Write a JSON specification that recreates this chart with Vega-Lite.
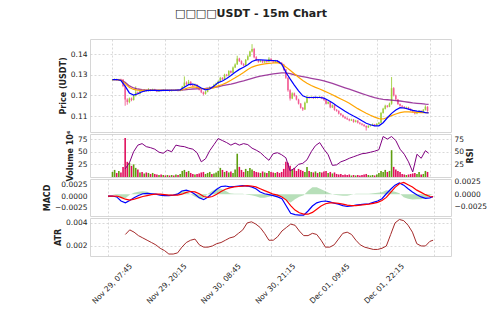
{
"$schema":"https://vega.github.io/schema/vega-lite/v6.json",
"background":"white",
"padding":{"left":42,"top":7,"right":3,"bottom":3},
"title":{"text":"□□□□USDT - 15m Chart","fontSize":11,"fontWeight":"bold","font":"DejaVu Sans","color":"#222222","anchor":"middle","offset":20,"dx":-14},
"spacing":2,
"bounds":"flush",
"config":{
 "font":"DejaVu Sans",
 "concat":{"spacing":2},
 "view":{"stroke":"#d6d6d6","strokeWidth":1},
 "axis":{"domain":false,"ticks":false,"labelOverlap":false,"gridColor":"#cfcfcf","gridDash":[2,2],"gridWidth":0.8,"labelFontSize":7.5,"labelColor":"#222222","labelPadding":3,"titleFontSize":8,"titleFontWeight":"bold","titleColor":"#222222","titlePadding":3,"minExtent":0}
},
"datasets":{
"k":[
{"t":"2024-11-29T07:45","o":0.1274,"h":0.1280,"l":0.1272,"c":0.1276,"v":10},
{"t":"2024-11-29T08:15","o":0.1276,"h":0.1282,"l":0.1274,"c":0.1279,"v":14},
{"t":"2024-11-29T08:45","o":0.1279,"h":0.1281,"l":0.1272,"c":0.1274,"v":8},
{"t":"2024-11-29T09:15","o":0.1274,"h":0.1280,"l":0.1273,"c":0.1278,"v":12},
{"t":"2024-11-29T09:45","o":0.1278,"h":0.1281,"l":0.1274,"c":0.1277,"v":9},
{"t":"2024-11-29T10:15","o":0.1277,"h":0.1278,"l":0.1240,"c":0.1245,"v":20},
{"t":"2024-11-29T10:45","o":0.1245,"h":0.1248,"l":0.1150,"c":0.1180,"v":77},
{"t":"2024-11-29T11:15","o":0.1180,"h":0.1186,"l":0.1155,"c":0.1168,"v":30},
{"t":"2024-11-29T11:45","o":0.1168,"h":0.1190,"l":0.1162,"c":0.1185,"v":28},
{"t":"2024-11-29T12:15","o":0.1185,"h":0.1190,"l":0.1172,"c":0.1178,"v":22},
{"t":"2024-11-29T12:45","o":0.1178,"h":0.1202,"l":0.1175,"c":0.1198,"v":25},
{"t":"2024-11-29T13:15","o":0.1198,"h":0.1244,"l":0.1195,"c":0.1215,"v":18},
{"t":"2024-11-29T13:45","o":0.1215,"h":0.1219,"l":0.1204,"c":0.1208,"v":15},
{"t":"2024-11-29T14:15","o":0.1208,"h":0.1226,"l":0.1205,"c":0.1222,"v":9},
{"t":"2024-11-29T14:45","o":0.1222,"h":0.1226,"l":0.1215,"c":0.1219,"v":10},
{"t":"2024-11-29T15:15","o":0.1219,"h":0.1230,"l":0.1217,"c":0.1226,"v":7},
{"t":"2024-11-29T15:45","o":0.1226,"h":0.1229,"l":0.1218,"c":0.1221,"v":9},
{"t":"2024-11-29T16:15","o":0.1221,"h":0.1235,"l":0.1219,"c":0.1228,"v":8},
{"t":"2024-11-29T16:45","o":0.1228,"h":0.1231,"l":0.1220,"c":0.1223,"v":6},
{"t":"2024-11-29T17:15","o":0.1223,"h":0.1233,"l":0.1221,"c":0.1230,"v":8},
{"t":"2024-11-29T17:45","o":0.1230,"h":0.1232,"l":0.1221,"c":0.1224,"v":6},
{"t":"2024-11-29T18:15","o":0.1224,"h":0.1227,"l":0.1216,"c":0.1219,"v":5},
{"t":"2024-11-29T18:45","o":0.1219,"h":0.1229,"l":0.1217,"c":0.1226,"v":4},
{"t":"2024-11-29T19:15","o":0.1226,"h":0.1228,"l":0.1219,"c":0.1222,"v":5},
{"t":"2024-11-29T19:45","o":0.1222,"h":0.1230,"l":0.1220,"c":0.1227,"v":4},
{"t":"2024-11-29T20:15","o":0.1227,"h":0.1229,"l":0.1220,"c":0.1223,"v":3},
{"t":"2024-11-29T20:45","o":0.1223,"h":0.1228,"l":0.1221,"c":0.1225,"v":4},
{"t":"2024-11-29T21:15","o":0.1225,"h":0.1227,"l":0.1218,"c":0.1221,"v":3},
{"t":"2024-11-29T21:45","o":0.1221,"h":0.1229,"l":0.1219,"c":0.1226,"v":4},
{"t":"2024-11-29T22:15","o":0.1226,"h":0.1228,"l":0.1221,"c":0.1224,"v":3},
{"t":"2024-11-29T22:45","o":0.1224,"h":0.1231,"l":0.1222,"c":0.1228,"v":5},
{"t":"2024-11-29T23:15","o":0.1228,"h":0.1230,"l":0.1219,"c":0.1222,"v":4},
{"t":"2024-11-29T23:45","o":0.1222,"h":0.1229,"l":0.1220,"c":0.1226,"v":6},
{"t":"2024-11-30T00:15","o":0.1226,"h":0.1246,"l":0.1224,"c":0.1242,"v":12},
{"t":"2024-11-30T00:45","o":0.1242,"h":0.1292,"l":0.1240,"c":0.1262,"v":14},
{"t":"2024-11-30T01:15","o":0.1262,"h":0.1268,"l":0.1250,"c":0.1255,"v":10},
{"t":"2024-11-30T01:45","o":0.1255,"h":0.1275,"l":0.1252,"c":0.1266,"v":12},
{"t":"2024-11-30T02:15","o":0.1266,"h":0.1269,"l":0.1246,"c":0.1250,"v":8},
{"t":"2024-11-30T02:45","o":0.1250,"h":0.1256,"l":0.1242,"c":0.1246,"v":6},
{"t":"2024-11-30T03:15","o":0.1246,"h":0.1258,"l":0.1244,"c":0.1252,"v":5},
{"t":"2024-11-30T03:45","o":0.1252,"h":0.1254,"l":0.1232,"c":0.1236,"v":6},
{"t":"2024-11-30T04:15","o":0.1236,"h":0.1240,"l":0.1224,"c":0.1228,"v":7},
{"t":"2024-11-30T04:45","o":0.1228,"h":0.1231,"l":0.1211,"c":0.1215,"v":9},
{"t":"2024-11-30T05:15","o":0.1215,"h":0.1219,"l":0.1200,"c":0.1207,"v":10},
{"t":"2024-11-30T05:45","o":0.1207,"h":0.1222,"l":0.1204,"c":0.1218,"v":6},
{"t":"2024-11-30T06:15","o":0.1218,"h":0.1236,"l":0.1215,"c":0.1232,"v":8},
{"t":"2024-11-30T06:45","o":0.1232,"h":0.1244,"l":0.1229,"c":0.1240,"v":10},
{"t":"2024-11-30T07:15","o":0.1240,"h":0.1243,"l":0.1232,"c":0.1236,"v":6},
{"t":"2024-11-30T07:45","o":0.1236,"h":0.1256,"l":0.1234,"c":0.1252,"v":7},
{"t":"2024-11-30T08:15","o":0.1252,"h":0.1262,"l":0.1248,"c":0.1258,"v":9},
{"t":"2024-11-30T08:45","o":0.1258,"h":0.1272,"l":0.1255,"c":0.1268,"v":12},
{"t":"2024-11-30T09:15","o":0.1268,"h":0.1290,"l":0.1265,"c":0.1285,"v":18},
{"t":"2024-11-30T09:45","o":0.1285,"h":0.1288,"l":0.1274,"c":0.1278,"v":14},
{"t":"2024-11-30T10:15","o":0.1278,"h":0.1305,"l":0.1276,"c":0.1300,"v":10},
{"t":"2024-11-30T10:45","o":0.1300,"h":0.1304,"l":0.1292,"c":0.1296,"v":12},
{"t":"2024-11-30T11:15","o":0.1296,"h":0.1322,"l":0.1294,"c":0.1318,"v":9},
{"t":"2024-11-30T11:45","o":0.1318,"h":0.1321,"l":0.1306,"c":0.1310,"v":11},
{"t":"2024-11-30T12:15","o":0.1310,"h":0.1340,"l":0.1308,"c":0.1335,"v":8},
{"t":"2024-11-30T12:45","o":0.1335,"h":0.1355,"l":0.1332,"c":0.1350,"v":15},
{"t":"2024-11-30T13:15","o":0.1350,"h":0.1392,"l":0.1348,"c":0.1378,"v":46},
{"t":"2024-11-30T13:45","o":0.1378,"h":0.1382,"l":0.1362,"c":0.1366,"v":20},
{"t":"2024-11-30T14:15","o":0.1366,"h":0.1370,"l":0.1348,"c":0.1352,"v":14},
{"t":"2024-11-30T14:45","o":0.1352,"h":0.1356,"l":0.1340,"c":0.1345,"v":10},
{"t":"2024-11-30T15:15","o":0.1345,"h":0.1376,"l":0.1343,"c":0.1372,"v":16},
{"t":"2024-11-30T15:45","o":0.1372,"h":0.1395,"l":0.1369,"c":0.1390,"v":12},
{"t":"2024-11-30T16:15","o":0.1390,"h":0.1416,"l":0.1386,"c":0.1412,"v":18},
{"t":"2024-11-30T16:45","o":0.1412,"h":0.1448,"l":0.1408,"c":0.1425,"v":15},
{"t":"2024-11-30T17:15","o":0.1425,"h":0.1430,"l":0.1380,"c":0.1385,"v":12},
{"t":"2024-11-30T17:45","o":0.1385,"h":0.1390,"l":0.1366,"c":0.1370,"v":10},
{"t":"2024-11-30T18:15","o":0.1370,"h":0.1374,"l":0.1358,"c":0.1362,"v":9},
{"t":"2024-11-30T18:45","o":0.1362,"h":0.1372,"l":0.1360,"c":0.1368,"v":8},
{"t":"2024-11-30T19:15","o":0.1368,"h":0.1371,"l":0.1356,"c":0.1360,"v":11},
{"t":"2024-11-30T19:45","o":0.1360,"h":0.1370,"l":0.1357,"c":0.1366,"v":9},
{"t":"2024-11-30T20:15","o":0.1366,"h":0.1369,"l":0.1358,"c":0.1362,"v":8},
{"t":"2024-11-30T20:45","o":0.1362,"h":0.1385,"l":0.1360,"c":0.1378,"v":12},
{"t":"2024-11-30T21:15","o":0.1378,"h":0.1380,"l":0.1362,"c":0.1366,"v":10},
{"t":"2024-11-30T21:45","o":0.1366,"h":0.1369,"l":0.1356,"c":0.1360,"v":9},
{"t":"2024-11-30T22:15","o":0.1360,"h":0.1372,"l":0.1358,"c":0.1368,"v":8},
{"t":"2024-11-30T22:45","o":0.1368,"h":0.1371,"l":0.1359,"c":0.1362,"v":10},
{"t":"2024-11-30T23:15","o":0.1362,"h":0.1366,"l":0.1354,"c":0.1358,"v":8},
{"t":"2024-11-30T23:45","o":0.1358,"h":0.1361,"l":0.1346,"c":0.1350,"v":10},
{"t":"2024-12-01T00:15","o":0.1350,"h":0.1353,"l":0.1320,"c":0.1325,"v":16},
{"t":"2024-12-01T00:45","o":0.1325,"h":0.1328,"l":0.1280,"c":0.1285,"v":30},
{"t":"2024-12-01T01:15","o":0.1285,"h":0.1288,"l":0.1218,"c":0.1225,"v":28},
{"t":"2024-12-01T01:45","o":0.1225,"h":0.1230,"l":0.1175,"c":0.1185,"v":22},
{"t":"2024-12-01T02:15","o":0.1185,"h":0.1215,"l":0.1182,"c":0.1210,"v":15},
{"t":"2024-12-01T02:45","o":0.1210,"h":0.1214,"l":0.1194,"c":0.1198,"v":18},
{"t":"2024-12-01T03:15","o":0.1198,"h":0.1201,"l":0.1176,"c":0.1180,"v":12},
{"t":"2024-12-01T03:45","o":0.1180,"h":0.1184,"l":0.1156,"c":0.1160,"v":16},
{"t":"2024-12-01T04:15","o":0.1160,"h":0.1163,"l":0.1136,"c":0.1140,"v":14},
{"t":"2024-12-01T04:45","o":0.1140,"h":0.1144,"l":0.1125,"c":0.1132,"v":12},
{"t":"2024-12-01T05:15","o":0.1132,"h":0.1170,"l":0.1130,"c":0.1165,"v":10},
{"t":"2024-12-01T05:45","o":0.1165,"h":0.1200,"l":0.1162,"c":0.1192,"v":20},
{"t":"2024-12-01T06:15","o":0.1192,"h":0.1195,"l":0.1184,"c":0.1188,"v":12},
{"t":"2024-12-01T06:45","o":0.1188,"h":0.1196,"l":0.1186,"c":0.1192,"v":10},
{"t":"2024-12-01T07:15","o":0.1192,"h":0.1194,"l":0.1183,"c":0.1187,"v":9},
{"t":"2024-12-01T07:45","o":0.1187,"h":0.1195,"l":0.1185,"c":0.1191,"v":11},
{"t":"2024-12-01T08:15","o":0.1191,"h":0.1193,"l":0.1185,"c":0.1189,"v":8},
{"t":"2024-12-01T08:45","o":0.1189,"h":0.1197,"l":0.1187,"c":0.1193,"v":10},
{"t":"2024-12-01T09:15","o":0.1193,"h":0.1195,"l":0.1182,"c":0.1186,"v":9},
{"t":"2024-12-01T09:45","o":0.1186,"h":0.1189,"l":0.1174,"c":0.1178,"v":11},
{"t":"2024-12-01T10:15","o":0.1178,"h":0.1181,"l":0.1156,"c":0.1160,"v":12},
{"t":"2024-12-01T10:45","o":0.1160,"h":0.1172,"l":0.1157,"c":0.1168,"v":8},
{"t":"2024-12-01T11:15","o":0.1168,"h":0.1171,"l":0.1138,"c":0.1142,"v":10},
{"t":"2024-12-01T11:45","o":0.1142,"h":0.1156,"l":0.1139,"c":0.1152,"v":7},
{"t":"2024-12-01T12:15","o":0.1152,"h":0.1155,"l":0.1126,"c":0.1130,"v":9},
{"t":"2024-12-01T12:45","o":0.1130,"h":0.1134,"l":0.1121,"c":0.1125,"v":6},
{"t":"2024-12-01T13:15","o":0.1125,"h":0.1128,"l":0.1108,"c":0.1112,"v":5},
{"t":"2024-12-01T13:45","o":0.1112,"h":0.1115,"l":0.1101,"c":0.1105,"v":6},
{"t":"2024-12-01T14:15","o":0.1105,"h":0.1108,"l":0.1092,"c":0.1096,"v":4},
{"t":"2024-12-01T14:45","o":0.1096,"h":0.1100,"l":0.1086,"c":0.1090,"v":5},
{"t":"2024-12-01T15:15","o":0.1090,"h":0.1094,"l":0.1081,"c":0.1085,"v":4},
{"t":"2024-12-01T15:45","o":0.1085,"h":0.1088,"l":0.1075,"c":0.1079,"v":5},
{"t":"2024-12-01T16:15","o":0.1079,"h":0.1087,"l":0.1076,"c":0.1083,"v":3},
{"t":"2024-12-01T16:45","o":0.1083,"h":0.1086,"l":0.1068,"c":0.1072,"v":4},
{"t":"2024-12-01T17:15","o":0.1072,"h":0.1082,"l":0.1069,"c":0.1078,"v":3},
{"t":"2024-12-01T17:45","o":0.1078,"h":0.1080,"l":0.1064,"c":0.1068,"v":4},
{"t":"2024-12-01T18:15","o":0.1068,"h":0.1071,"l":0.1059,"c":0.1063,"v":3},
{"t":"2024-12-01T18:45","o":0.1063,"h":0.1066,"l":0.1054,"c":0.1058,"v":4},
{"t":"2024-12-01T19:15","o":0.1058,"h":0.1061,"l":0.1048,"c":0.1052,"v":5},
{"t":"2024-12-01T19:45","o":0.1052,"h":0.1055,"l":0.1030,"c":0.1045,"v":6},
{"t":"2024-12-01T20:15","o":0.1045,"h":0.1056,"l":0.1042,"c":0.1052,"v":4},
{"t":"2024-12-01T20:45","o":0.1052,"h":0.1060,"l":0.1049,"c":0.1056,"v":3},
{"t":"2024-12-01T21:15","o":0.1056,"h":0.1064,"l":0.1053,"c":0.1060,"v":4},
{"t":"2024-12-01T21:45","o":0.1060,"h":0.1062,"l":0.1051,"c":0.1055,"v":3},
{"t":"2024-12-01T22:15","o":0.1055,"h":0.1066,"l":0.1052,"c":0.1062,"v":5},
{"t":"2024-12-01T22:45","o":0.1062,"h":0.1072,"l":0.1059,"c":0.1068,"v":8},
{"t":"2024-12-01T23:15","o":0.1068,"h":0.1120,"l":0.1065,"c":0.1115,"v":12},
{"t":"2024-12-01T23:45","o":0.1115,"h":0.1140,"l":0.1112,"c":0.1135,"v":10},
{"t":"2024-12-02T00:15","o":0.1135,"h":0.1155,"l":0.1132,"c":0.1150,"v":14},
{"t":"2024-12-02T00:45","o":0.1150,"h":0.1153,"l":0.1141,"c":0.1145,"v":10},
{"t":"2024-12-02T01:15","o":0.1145,"h":0.1165,"l":0.1143,"c":0.1160,"v":12},
{"t":"2024-12-02T01:45","o":0.1160,"h":0.1289,"l":0.1155,"c":0.1235,"v":53},
{"t":"2024-12-02T02:15","o":0.1235,"h":0.1240,"l":0.1195,"c":0.1200,"v":20},
{"t":"2024-12-02T02:45","o":0.1200,"h":0.1204,"l":0.1176,"c":0.1180,"v":15},
{"t":"2024-12-02T03:15","o":0.1180,"h":0.1183,"l":0.1154,"c":0.1158,"v":12},
{"t":"2024-12-02T03:45","o":0.1158,"h":0.1161,"l":0.1146,"c":0.1150,"v":10},
{"t":"2024-12-02T04:15","o":0.1150,"h":0.1153,"l":0.1141,"c":0.1145,"v":6},
{"t":"2024-12-02T04:45","o":0.1145,"h":0.1148,"l":0.1134,"c":0.1138,"v":5},
{"t":"2024-12-02T05:15","o":0.1138,"h":0.1146,"l":0.1135,"c":0.1142,"v":4},
{"t":"2024-12-02T05:45","o":0.1142,"h":0.1145,"l":0.1131,"c":0.1135,"v":5},
{"t":"2024-12-02T06:15","o":0.1135,"h":0.1138,"l":0.1124,"c":0.1128,"v":6},
{"t":"2024-12-02T06:45","o":0.1128,"h":0.1131,"l":0.1116,"c":0.1120,"v":7},
{"t":"2024-12-02T07:15","o":0.1120,"h":0.1123,"l":0.1108,"c":0.1112,"v":8},
{"t":"2024-12-02T07:45","o":0.1112,"h":0.1122,"l":0.1109,"c":0.1118,"v":6},
{"t":"2024-12-02T08:15","o":0.1118,"h":0.1129,"l":0.1115,"c":0.1125,"v":10},
{"t":"2024-12-02T08:45","o":0.1125,"h":0.1128,"l":0.1116,"c":0.1120,"v":5},
{"t":"2024-12-02T09:15","o":0.1120,"h":0.1134,"l":0.1117,"c":0.1130,"v":6},
{"t":"2024-12-02T09:45","o":0.1130,"h":0.1152,"l":0.1127,"c":0.1145,"v":12},
{"t":"2024-12-02T10:15","o":0.1145,"h":0.1148,"l":0.1121,"c":0.1125,"v":10}
],
"ind":[
{"t":"2024-11-29T07:45","a":0.1276,"b":0.1276,"d":0.1276,"r":null,"m":0,"s":0,"g":0,"atr":null},
{"t":"2024-11-29T08:45","a":0.1277,"b":0.1276,"d":0.1276,"r":null,"m":0,"s":0,"g":0,"atr":null},
{"t":"2024-11-29T09:45","a":0.1272,"b":0.1273,"d":0.1274,"r":null,"m":-0.0002,"s":0,"g":-0.0002,"atr":null},
{"t":"2024-11-29T10:45","a":0.1245,"b":0.1257,"d":0.1263,"r":16,"m":-0.0011,"s":-0.0003,"g":-0.0008,"atr":null},
{"t":"2024-11-29T11:45","a":0.1212,"b":0.1238,"d":0.1246,"r":28,"m":-0.0015,"s":-0.0007,"g":-0.0008,"atr":0.0030},
{"t":"2024-11-29T12:45","a":0.1202,"b":0.1229,"d":0.1236,"r":50,"m":-0.0010,"s":-0.0009,"g":-0.0001,"atr":0.0034},
{"t":"2024-11-29T13:45","a":0.1208,"b":0.1225,"d":0.1231,"r":63,"m":-0.0004,"s":-0.0007,"g":0.0003,"atr":0.0032},
{"t":"2024-11-29T14:45","a":0.1218,"b":0.1224,"d":0.1228,"r":66,"m":0.0001,"s":-0.0004,"g":0.0005,"atr":0.0029},
{"t":"2024-11-29T15:45","a":0.1223,"b":0.1224,"d":0.1226,"r":60,"m":0.0005,"s":-0.0001,"g":0.0006,"atr":0.0027},
{"t":"2024-11-29T16:45","a":0.1224,"b":0.1225,"d":0.1226,"r":58,"m":0.0006,"s":0.0001,"g":0.0005,"atr":0.0025},
{"t":"2024-11-29T17:45","a":0.1224,"b":0.1225,"d":0.1226,"r":55,"m":0.0005,"s":0.0003,"g":0.0002,"atr":0.0023},
{"t":"2024-11-29T18:45","a":0.1223,"b":0.1225,"d":0.1226,"r":49,"m":0.0004,"s":0.0004,"g":0,"atr":0.0021},
{"t":"2024-11-29T19:45","a":0.1224,"b":0.1225,"d":0.1226,"r":47,"m":0.0002,"s":0.0004,"g":-0.0002,"atr":0.0018},
{"t":"2024-11-29T20:45","a":0.1224,"b":0.1225,"d":0.1226,"r":53,"m":0.0001,"s":0.0003,"g":-0.0002,"atr":0.0016},
{"t":"2024-11-29T21:45","a":0.1225,"b":0.1225,"d":0.1226,"r":50,"m":0.0001,"s":0.0002,"g":-0.0001,"atr":0.0013},
{"t":"2024-11-29T22:45","a":0.1225,"b":0.1225,"d":0.1226,"r":63,"m":0.0002,"s":0.0002,"g":0,"atr":0.0013},
{"t":"2024-11-29T23:45","a":0.1227,"b":0.1226,"d":0.1226,"r":61,"m":0.0004,"s":0.0002,"g":0.0002,"atr":0.0014},
{"t":"2024-11-30T00:45","a":0.1240,"b":0.1231,"d":0.1227,"r":60,"m":0.0011,"s":0.0004,"g":0.0007,"atr":0.0019},
{"t":"2024-11-30T01:45","a":0.1252,"b":0.1237,"d":0.1229,"r":57,"m":0.0013,"s":0.0008,"g":0.0005,"atr":0.0023},
{"t":"2024-11-30T02:45","a":0.1255,"b":0.1241,"d":0.1231,"r":55,"m":0.0010,"s":0.0010,"g":0,"atr":0.0025},
{"t":"2024-11-30T03:45","a":0.1248,"b":0.1239,"d":0.1232,"r":48,"m":0.0004,"s":0.0009,"g":-0.0005,"atr":0.0026},
{"t":"2024-11-30T04:45","a":0.1236,"b":0.1234,"d":0.1233,"r":30,"m":-0.0004,"s":0.0005,"g":-0.0009,"atr":0.0021},
{"t":"2024-11-30T05:45","a":0.1227,"b":0.1231,"d":0.1234,"r":36,"m":-0.0008,"s":-0.0001,"g":-0.0007,"atr":0.0019},
{"t":"2024-11-30T06:45","a":0.1231,"b":0.1233,"d":0.1236,"r":52,"m":-0.0002,"s":-0.0003,"g":0.0001,"atr":0.0019},
{"t":"2024-11-30T07:45","a":0.1245,"b":0.1238,"d":0.1239,"r":64,"m":0.0006,"s":-0.0001,"g":0.0007,"atr":0.0020},
{"t":"2024-11-30T08:45","a":0.1262,"b":0.1246,"d":0.1242,"r":76,"m":0.0015,"s":0.0004,"g":0.0011,"atr":0.0022},
{"t":"2024-11-30T09:45","a":0.1270,"b":0.1253,"d":0.1247,"r":72,"m":0.0021,"s":0.0010,"g":0.0011,"atr":0.0023},
{"t":"2024-11-30T10:45","a":0.1282,"b":0.1262,"d":0.1251,"r":68,"m":0.0022,"s":0.0015,"g":0.0007,"atr":0.0025},
{"t":"2024-11-30T11:45","a":0.1296,"b":0.1273,"d":0.1255,"r":63,"m":0.0020,"s":0.0018,"g":0.0002,"atr":0.0027},
{"t":"2024-11-30T12:45","a":0.1312,"b":0.1285,"d":0.1260,"r":67,"m":0.0021,"s":0.0020,"g":0.0001,"atr":0.0028},
{"t":"2024-11-30T13:45","a":0.1326,"b":0.1298,"d":0.1265,"r":63,"m":0.0022,"s":0.0021,"g":0.0001,"atr":0.0031},
{"t":"2024-11-30T14:45","a":0.1336,"b":0.1311,"d":0.1270,"r":66,"m":0.0023,"s":0.0022,"g":0.0001,"atr":0.0034},
{"t":"2024-11-30T15:45","a":0.1348,"b":0.1325,"d":0.1276,"r":64,"m":0.0022,"s":0.0023,"g":-0.0001,"atr":0.0040},
{"t":"2024-11-30T16:45","a":0.1364,"b":0.1337,"d":0.1282,"r":57,"m":0.0020,"s":0.0022,"g":-0.0002,"atr":0.0041},
{"t":"2024-11-30T17:45","a":0.1372,"b":0.1344,"d":0.1288,"r":53,"m":0.0016,"s":0.0020,"g":-0.0004,"atr":0.0039},
{"t":"2024-11-30T18:45","a":0.1372,"b":0.1349,"d":0.1293,"r":48,"m":0.0009,"s":0.0016,"g":-0.0007,"atr":0.0036},
{"t":"2024-11-30T19:45","a":0.1371,"b":0.1353,"d":0.1297,"r":40,"m":0.0005,"s":0.0012,"g":-0.0007,"atr":0.0031},
{"t":"2024-11-30T20:45","a":0.1370,"b":0.1355,"d":0.1301,"r":33,"m":0.0003,"s":0.0008,"g":-0.0005,"atr":0.0025},
{"t":"2024-11-30T21:45","a":0.1369,"b":0.1357,"d":0.1304,"r":46,"m":0.0001,"s":0.0004,"g":-0.0003,"atr":0.0025},
{"t":"2024-11-30T22:45","a":0.1367,"b":0.1359,"d":0.1307,"r":48,"m":-0.0002,"s":0.0002,"g":-0.0004,"atr":0.0028},
{"t":"2024-11-30T23:45","a":0.1352,"b":0.1353,"d":0.1309,"r":44,"m":-0.0006,"s":-0.0002,"g":-0.0004,"atr":0.0033},
{"t":"2024-12-01T00:45","a":0.1312,"b":0.1338,"d":0.1309,"r":38,"m":-0.0022,"s":-0.0009,"g":-0.0013,"atr":0.0036},
{"t":"2024-12-01T01:45","a":0.1280,"b":0.1322,"d":0.1305,"r":12,"m":-0.0038,"s":-0.0021,"g":-0.0017,"atr":0.0039},
{"t":"2024-12-01T02:45","a":0.1250,"b":0.1305,"d":0.1300,"r":17,"m":-0.0041,"s":-0.0031,"g":-0.0010,"atr":0.0038},
{"t":"2024-12-01T03:45","a":0.1222,"b":0.1288,"d":0.1295,"r":25,"m":-0.0042,"s":-0.0037,"g":-0.0005,"atr":0.0033},
{"t":"2024-12-01T04:45","a":0.1198,"b":0.1272,"d":0.1291,"r":27,"m":-0.0042,"s":-0.0040,"g":-0.0002,"atr":0.0029},
{"t":"2024-12-01T05:45","a":0.1190,"b":0.1259,"d":0.1287,"r":34,"m":-0.0033,"s":-0.0040,"g":0.0007,"atr":0.0029},
{"t":"2024-12-01T06:45","a":0.1190,"b":0.1248,"d":0.1283,"r":50,"m":-0.0022,"s":-0.0036,"g":0.0014,"atr":0.0031},
{"t":"2024-12-01T07:45","a":0.1191,"b":0.1239,"d":0.1279,"r":62,"m":-0.0015,"s":-0.0029,"g":0.0014,"atr":0.0030},
{"t":"2024-12-01T08:45","a":0.1190,"b":0.1231,"d":0.1275,"r":68,"m":-0.0012,"s":-0.0022,"g":0.0010,"atr":0.0025},
{"t":"2024-12-01T09:45","a":0.1187,"b":0.1222,"d":0.1270,"r":55,"m":-0.0011,"s":-0.0017,"g":0.0006,"atr":0.0019},
{"t":"2024-12-01T10:45","a":0.1177,"b":0.1213,"d":0.1264,"r":44,"m":-0.0013,"s":-0.0015,"g":0.0002,"atr":0.0019},
{"t":"2024-12-01T11:45","a":0.1164,"b":0.1203,"d":0.1258,"r":23,"m":-0.0016,"s":-0.0015,"g":-0.0001,"atr":0.0021},
{"t":"2024-12-01T12:45","a":0.1150,"b":0.1193,"d":0.1251,"r":24,"m":-0.0018,"s":-0.0016,"g":-0.0002,"atr":0.0026},
{"t":"2024-12-01T13:45","a":0.1137,"b":0.1183,"d":0.1244,"r":30,"m":-0.0021,"s":-0.0018,"g":-0.0003,"atr":0.0031},
{"t":"2024-12-01T14:45","a":0.1123,"b":0.1173,"d":0.1237,"r":33,"m":-0.0023,"s":-0.0020,"g":-0.0003,"atr":0.0032},
{"t":"2024-12-01T15:45","a":0.1111,"b":0.1162,"d":0.1230,"r":37,"m":-0.0022,"s":-0.0021,"g":-0.0001,"atr":0.0030},
{"t":"2024-12-01T16:45","a":0.1100,"b":0.1149,"d":0.1223,"r":40,"m":-0.0020,"s":-0.0021,"g":0.0001,"atr":0.0025},
{"t":"2024-12-01T17:45","a":0.1090,"b":0.1136,"d":0.1216,"r":43,"m":-0.0019,"s":-0.0020,"g":0.0001,"atr":0.0021},
{"t":"2024-12-01T18:45","a":0.1077,"b":0.1125,"d":0.1209,"r":46,"m":-0.0018,"s":-0.0019,"g":0.0001,"atr":0.0019},
{"t":"2024-12-01T19:45","a":0.1065,"b":0.1114,"d":0.1202,"r":47,"m":-0.0017,"s":-0.0018,"g":0.0001,"atr":0.0018},
{"t":"2024-12-01T20:45","a":0.1058,"b":0.1104,"d":0.1195,"r":49,"m":-0.0014,"s":-0.0016,"g":0.0002,"atr":0.0017},
{"t":"2024-12-01T21:45","a":0.1053,"b":0.1095,"d":0.1189,"r":51,"m":-0.0011,"s":-0.0014,"g":0.0003,"atr":0.0017},
{"t":"2024-12-01T22:45","a":0.1053,"b":0.1088,"d":0.1184,"r":54,"m":-0.0006,"s":-0.0010,"g":0.0004,"atr":0.0018},
{"t":"2024-12-01T23:45","a":0.1068,"b":0.1086,"d":0.1181,"r":80,"m":0.0005,"s":-0.0003,"g":0.0008,"atr":0.0020},
{"t":"2024-12-02T00:45","a":0.1092,"b":0.1093,"d":0.1179,"r":75,"m":0.0015,"s":0.0008,"g":0.0007,"atr":0.0030},
{"t":"2024-12-02T01:45","a":0.1113,"b":0.1102,"d":0.1177,"r":80,"m":0.0024,"s":0.0019,"g":0.0005,"atr":0.0040},
{"t":"2024-12-02T02:45","a":0.1129,"b":0.1110,"d":0.1175,"r":72,"m":0.0029,"s":0.0027,"g":0.0002,"atr":0.0043},
{"t":"2024-12-02T03:45","a":0.1141,"b":0.1117,"d":0.1173,"r":55,"m":0.0024,"s":0.0030,"g":-0.0006,"atr":0.0042},
{"t":"2024-12-02T04:45","a":0.1139,"b":0.1120,"d":0.1170,"r":45,"m":0.0016,"s":0.0025,"g":-0.0009,"atr":0.0038},
{"t":"2024-12-02T05:45","a":0.1134,"b":0.1120,"d":0.1167,"r":30,"m":0.0009,"s":0.0020,"g":-0.0011,"atr":0.0032},
{"t":"2024-12-02T06:45","a":0.1128,"b":0.1119,"d":0.1164,"r":10,"m":0.0003,"s":0.0013,"g":-0.0010,"atr":0.0022},
{"t":"2024-12-02T07:45","a":0.1124,"b":0.1118,"d":0.1162,"r":45,"m":-0.0002,"s":0.0008,"g":-0.0010,"atr":0.0020},
{"t":"2024-12-02T08:45","a":0.1122,"b":0.1117,"d":0.1160,"r":37,"m":-0.0005,"s":0.0003,"g":-0.0008,"atr":0.0020},
{"t":"2024-12-02T09:45","a":0.1117,"b":0.1117,"d":0.1158,"r":52,"m":-0.0004,"s":-0.0001,"g":-0.0003,"atr":0.0024},
{"t":"2024-12-02T10:30","a":0.1116,"b":0.1117,"d":0.1157,"r":47,"m":-0.0001,"s":-0.0002,"g":0.0001,"atr":0.0025}
]
},
"vconcat":[
{
 "width":361,"height":93,
 "layer":[
  {"data":{"name":"k"},"mark":{"type":"rule","strokeWidth":1,"opacity":0.85},
   "encoding":{
    "x":{"field":"t","type":"temporal","scale":{"domain":[{"year":2024,"month":11,"date":29,"hours":3,"minutes":37},{"year":2024,"month":12,"date":2,"hours":14,"minutes":37}]},"axis":{"labels":false,"title":null,"labelPadding":0,"values":[{"year":2024,"month":11,"date":29,"hours":7,"minutes":45},{"year":2024,"month":11,"date":29,"hours":20,"minutes":15},{"year":2024,"month":11,"date":30,"hours":8,"minutes":45},{"year":2024,"month":11,"date":30,"hours":21,"minutes":15},{"year":2024,"month":12,"date":1,"hours":9,"minutes":45},{"year":2024,"month":12,"date":1,"hours":22,"minutes":15},{"year":2024,"month":12,"date":2,"hours":10,"minutes":45}]}},
    "y":{"field":"l","type":"quantitative","scale":{"domain":[0.1023,0.1473],"zero":false,"nice":false},"axis":{"values":[0.11,0.12,0.13,0.14],"format":".2f","title":"Price (USDT)"}},
    "y2":{"field":"h"},
    "color":{"condition":{"test":"datum.c >= datum.o","value":"#9acd32"},"value":"#f2558f"}}},
  {"data":{"name":"k"},"mark":{"type":"bar","size":1.6,"opacity":0.85},
   "encoding":{
    "x":{"field":"t","type":"temporal"},
    "y":{"field":"o","type":"quantitative","axis":{"values":[0.11,0.12,0.13,0.14],"format":".2f","title":"Price (USDT)"}},
    "y2":{"field":"c"},
    "color":{"condition":{"test":"datum.c >= datum.o","value":"#9acd32"},"value":"#f2558f"}}},
  {"data":{"name":"ind"},"mark":{"type":"line","color":"purple","strokeWidth":1.3,"opacity":0.75},
   "encoding":{"x":{"field":"t","type":"temporal"},"y":{"field":"d","type":"quantitative","axis":{"values":[0.11,0.12,0.13,0.14],"format":".2f","title":"Price (USDT)"}}}},
  {"data":{"name":"ind"},"mark":{"type":"line","color":"orange","strokeWidth":1.2},
   "encoding":{"x":{"field":"t","type":"temporal"},"y":{"field":"b","type":"quantitative","axis":{"values":[0.11,0.12,0.13,0.14],"format":".2f","title":"Price (USDT)"}}}},
  {"data":{"name":"ind"},"mark":{"type":"line","color":"blue","strokeWidth":1.2},
   "encoding":{"x":{"field":"t","type":"temporal"},"y":{"field":"a","type":"quantitative","axis":{"values":[0.11,0.12,0.13,0.14],"format":".2f","title":"Price (USDT)"}}}}
 ]
},
{
 "width":361,"height":43,
 "layer":[
  {"data":{"name":"k"},"mark":{"type":"bar","size":1.6},
   "encoding":{
    "x":{"field":"t","type":"temporal","scale":{"domain":[{"year":2024,"month":11,"date":29,"hours":3,"minutes":37},{"year":2024,"month":12,"date":2,"hours":14,"minutes":37}]},"axis":{"labels":false,"title":null,"labelPadding":0,"values":[{"year":2024,"month":11,"date":29,"hours":7,"minutes":45},{"year":2024,"month":11,"date":29,"hours":20,"minutes":15},{"year":2024,"month":11,"date":30,"hours":8,"minutes":45},{"year":2024,"month":11,"date":30,"hours":21,"minutes":15},{"year":2024,"month":12,"date":1,"hours":9,"minutes":45},{"year":2024,"month":12,"date":1,"hours":22,"minutes":15},{"year":2024,"month":12,"date":2,"hours":10,"minutes":45}]}},
    "y":{"field":"v","type":"quantitative","scale":{"domain":[0,85],"nice":false},"axis":{"values":[25,50,75],"format":"d","title":"Volume 10⁶"}},
    "color":{"condition":{"test":"datum.c >= datum.o","value":"#5f9e10"},"value":"#e0105e"}}},
  {"data":{"name":"ind"},"mark":{"type":"line","color":"purple","strokeWidth":1},
   "encoding":{
    "x":{"field":"t","type":"temporal"},
    "y":{"field":"r","type":"quantitative","scale":{"domain":[0,85],"nice":false},"axis":{"orient":"right","values":[25,50,75],"format":"d","grid":false,"title":"RSI","titleAngle":270,"titleBaseline":"top"}}}}
 ],
 "resolve":{"scale":{"y":"independent"}}
},
{
 "width":361,"height":37,
 "layer":[
  {"data":{"name":"ind"},"mark":{"type":"area","color":"#4caf50","opacity":0.4},
   "encoding":{
    "x":{"field":"t","type":"temporal","scale":{"domain":[{"year":2024,"month":11,"date":29,"hours":3,"minutes":37},{"year":2024,"month":12,"date":2,"hours":14,"minutes":37}]},"axis":{"labels":false,"title":null,"labelPadding":0,"values":[{"year":2024,"month":11,"date":29,"hours":7,"minutes":45},{"year":2024,"month":11,"date":29,"hours":20,"minutes":15},{"year":2024,"month":11,"date":30,"hours":8,"minutes":45},{"year":2024,"month":11,"date":30,"hours":21,"minutes":15},{"year":2024,"month":12,"date":1,"hours":9,"minutes":45},{"year":2024,"month":12,"date":1,"hours":22,"minutes":15},{"year":2024,"month":12,"date":2,"hours":10,"minutes":45}]}},
    "y":{"field":"g","type":"quantitative","scale":{"domain":[-0.00442,0.00308],"nice":false,"zero":false},"axis":{"orient":"right","values":[-0.0025,0,0.0025],"format":".4f","grid":false,"title":null}},
    "y2":{"datum":0}}},
  {"data":{"name":"ind"},
   "layer":[
    {"mark":{"type":"line","color":"blue","strokeWidth":1.2},
     "encoding":{"x":{"field":"t","type":"temporal"},"y":{"field":"m","type":"quantitative","scale":{"domain":[-0.0044,0.00375],"nice":false,"zero":false},"axis":{"values":[-0.0025,0,0.0025],"format":".4f","title":"MACD"}}}},
    {"mark":{"type":"line","color":"red","strokeWidth":1.2},
     "encoding":{"x":{"field":"t","type":"temporal"},"y":{"field":"s","type":"quantitative","axis":{"values":[-0.0025,0,0.0025],"format":".4f","title":"MACD"}}}}
   ]}
 ],
 "resolve":{"scale":{"y":"independent"}}
},
{
 "width":361,"height":38,
 "data":{"name":"ind"},
 "mark":{"type":"line","color":"#a52a2a","strokeWidth":1},
 "encoding":{
  "x":{"field":"t","type":"temporal","scale":{"domain":[{"year":2024,"month":11,"date":29,"hours":3,"minutes":37},{"year":2024,"month":12,"date":2,"hours":14,"minutes":37}]},"axis":{"title":null,"format":"%b %d, %H:%M","labelAngle":-45,"labelAlign":"right","labelBaseline":"top","labelOffset":20,"labelPadding":6,"labelExpr":"datum.value > datetime(2024,11,2,0,0) ? '' : datum.label","values":[{"year":2024,"month":11,"date":29,"hours":7,"minutes":45},{"year":2024,"month":11,"date":29,"hours":20,"minutes":15},{"year":2024,"month":11,"date":30,"hours":8,"minutes":45},{"year":2024,"month":11,"date":30,"hours":21,"minutes":15},{"year":2024,"month":12,"date":1,"hours":9,"minutes":45},{"year":2024,"month":12,"date":1,"hours":22,"minutes":15},{"year":2024,"month":12,"date":2,"hours":10,"minutes":45}]}},
  "y":{"field":"atr","type":"quantitative","scale":{"domain":[0.00113,0.00443],"nice":false,"zero":false},"axis":{"values":[0.002,0.004],"format":".3f","title":"ATR"}}
 }
}
]
}
